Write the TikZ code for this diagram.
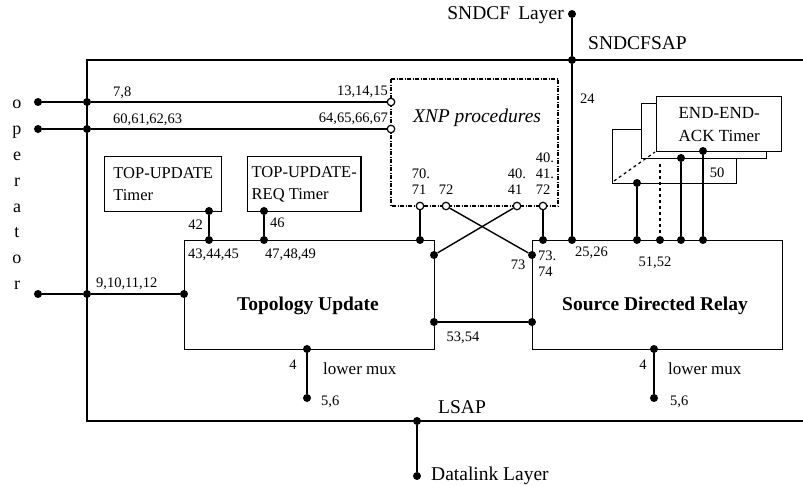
\documentclass[tikz,border=0pt]{standalone}
\usepackage{fontspec}
\setmainfont{Liberation Serif}
\usepackage{tikz}
\usetikzlibrary{positioning}

\tikzset{
    dot/.style={circle, fill, inner sep=0pt, minimum size=8pt},
    port/.style={circle, draw, fill=white, inner sep=0pt, minimum size=7.5pt, line width=1.2pt},
    num/.style={font=\fontsize{14.5}{16}\selectfont, inner sep=1pt, align=left},
    big/.style={font=\fontsize{19.5}{22}\selectfont, inner sep=1pt},
    mux/.style={font=\fontsize{17}{20}\selectfont, inner sep=1pt},
    blk/.style={draw, line width=1.4pt, minimum width=250pt, minimum height=109pt,
        anchor=north west, font=\fontsize{19.5}{22}\selectfont\bfseries},
    timerbox/.style={draw, line width=1.4pt, fill=white, anchor=north west,
        align=left, font=\fontsize{16.5}{22}\selectfont}
}

\begin{document}
\begin{tikzpicture}[x=1pt, y=-1pt]

                \useasboundingbox (0,0) rectangle (803,485);

                % frame of the subnetwork layer
                \coordinate (ftl) at (87,60);
                \coordinate (ftr) at (803,60);
                \coordinate (fbl) at (87,421);
                \coordinate (fbr) at (803,421);

                % main blocks
                \node[blk] (tu) at (184,240) {};
                \node at (308,306) {\fontsize{19.5}{22}\selectfont\bfseries Topology Update};
                \node[blk] (sdr) at (532,240) {};
                \node at (655,306) {\fontsize{19.5}{22}\selectfont\bfseries Source Directed Relay};

                % XNP box
                \draw[line width=1.2pt, dash pattern=on 4pt off 1.5pt on 1pt off 1.5pt]
                    (391,79) rectangle (558,206);
                \node[big, font=\fontsize{19.5}{22}\selectfont\itshape] (xnp) at (477,118)
                {XNP procedures};

                % timers
                \node[timerbox, minimum width=117pt, minimum height=55pt,
                    inner sep=7pt] (tm1) at (104,156)
                {TOP-UPDATE\\Timer};
                \node[timerbox, minimum width=112pt, minimum height=55pt,
                    inner sep=4pt] (tm2) at (247,156)
                {TOP-UPDATE-\\REQ Timer};
                \node[timerbox, minimum width=124pt, minimum height=54pt] (ack3) at (612,129) {};
                \node[timerbox, minimum width=125pt, minimum height=55pt] (ack2) at (641,103) {};
                \node[timerbox, minimum width=125pt, minimum height=55pt, align=center,
                    font=\fontsize{17}{23}\selectfont]
                    (ack1) at (656,96) {END-END-\\ACK Timer};
                \draw[line width=1.2pt, dashed] (614,181) -- (655,152);

                % operator side
                \node[big, align=center, font=\fontsize{18}{25.8}\selectfont] (op) at (17,195)
                {o\\p\\e\\r\\a\\t\\o\\r};
                \node[dot] (o1) at (38,102) {};
                \node[dot] (o2) at (38,129) {};
                \node[dot] (o3) at (38,294) {};
                \node[dot] (j1) at (87,102) {};
                \node[dot] (j2) at (87,129) {};
                \node[dot] (j3) at (87,294) {};
                \node[port] (x1) at (391,102) {};
                \node[port] (x2) at (391,129) {};
                \node[dot] (tul) at (184,294) {};

                % ports of the XNP box
                \node[port] (p70) at (420,206) {};
                \node[port] (p72) at (446,206) {};
                \node[port] (p40) at (517,206) {};
                \node[port] (p41) at (543,206) {};

                % dots on the blocks
                \node[dot] (t1) at (209,211) {};
                \node[dot] (t2) at (264,211) {};
                \node[dot] (tua) at (209,240) {};
                \node[dot] (tub) at (264,240) {};
                \node[dot] (tuc) at (420,240) {};
                \node[dot] (tur) at (434,255) {};
                \node[dot] (tus) at (434,322) {};
                \node[dot] (sdl) at (532,255) {};
                \node[dot] (sds) at (532,322) {};
                \node[dot] (sda) at (543,240) {};
                \node[dot] (sdb) at (572,240) {};
                \node[dot] (sdc) at (637,240) {};
                \node[dot] (sdd) at (660,240) {};
                \node[dot] (sde) at (681,240) {};
                \node[dot] (sdf) at (703,240) {};
                \node[dot] (a1) at (637,183) {};
                \coordinate (a2) at (660,164);
                \node[dot] (a3) at (681,158) {};
                \node[dot] (a4) at (703,151) {};

                % layer access points
                \node[dot] (sndcf) at (572,14) {};
                \node[dot] (sap) at (572,60) {};
                \node[dot] (tum) at (307,349) {};
                \node[dot] (tum2) at (307,398) {};
                \node[dot] (sdm) at (654,349) {};
                \node[dot] (sdm2) at (654,398) {};
                \node[dot] (lsap) at (417,421) {};
                \node[dot] (dl) at (417,476) {};

                % labels
                \node[big, anchor=east] (sndcfl) at (565,15) {SNDCF\, Layer};
                \node[big, anchor=west] (sapl) at (587,43) {SNDCFSAP};
                \node[big, anchor=west] (lsapl) at (437,407) {LSAP};
                \node[big, anchor=west] (dll) at (430,476) {Datalink Layer};
                \node[num, anchor=west] (l78) at (112,93) {7,8};
                \node[num, anchor=west] (l60) at (112,120) {60,61,62,63};
                \node[num, anchor=east] (l13) at (389,92) {13,14,15};
                \node[num, anchor=east] (l64) at (389,119) {64,65,66,67};
                \node[num, anchor=west] (l9) at (95,284) {9,10,11,12};
                \node[num, anchor=east] (l42) at (204,225) {42};
                \node[num, anchor=west] (l46) at (269,223) {46};
                \node[num, anchor=west] (l43) at (187,255) {43,44,45};
                \node[num, anchor=west] (l47) at (264,255) {47,48,49};
                \node[num] (l70) at (421,182) {70.\\71};
                \node[num] (l72) at (446,190) {72};
                \node[num] (l40) at (517,182) {40.\\41};
                \node[num] (l41) at (545,174) {40.\\41.\\72};
                \node[num, anchor=west] (l24) at (579,99) {24};
                \node[num, anchor=west] (l25) at (574,253) {25,26};
                \node[num] (l51) at (655,263) {51,52};
                \node[num] (l73) at (518,265) {73};
                \node[num, anchor=north west] (l74) at (537,250) {73.\\74};
                \node[num] (l53) at (463,338) {53,54};
                \node[num] (l50) at (717,173) {50};
                \node[num] (l4a) at (293,365) {4};
                \node[num] (l4b) at (643,365) {4};
                \node[num, anchor=west] (l56a) at (320,402) {5,6};
                \node[num, anchor=west] (l56b) at (669,402) {5,6};
                \node[mux, anchor=west] (mxa) at (322,369) {lower mux};
                \node[mux, anchor=west] (mxb) at (667,369) {lower mux};

                \begin{scope}[line width=1.4pt]
                    \draw (ftr) -- (ftl) -- (fbl) -- (fbr);
                    \draw (o1) -- (j1) -- (x1);
                    \draw (o2) -- (j2) -- (x2);
                    \draw (o3) -- (j3) -- (tul);
                    \draw (t1) -- (tua);
                    \draw (t2) -- (tub);
                    \draw (p70) -- (tuc);
                    \draw (p72) -- (sdl);
                    \draw (p40) -- (tur);
                    \draw (p41) -- (sda);
                    \draw (sndcf) -- (sap) -- (sdb);
                    \draw (tus) -- (sds);
                    \draw (tum) -- (tum2);
                    \draw (sdm) -- (sdm2);
                    \draw (lsap) -- (dl);
                    \draw (a1) -- (sdc);
                    \draw[dashed] (a2) -- (sdd);
                    \draw (a3) -- (sde);
                    \draw (a4) -- (sdf);
                \end{scope}

                \end{tikzpicture}
\end{document}
